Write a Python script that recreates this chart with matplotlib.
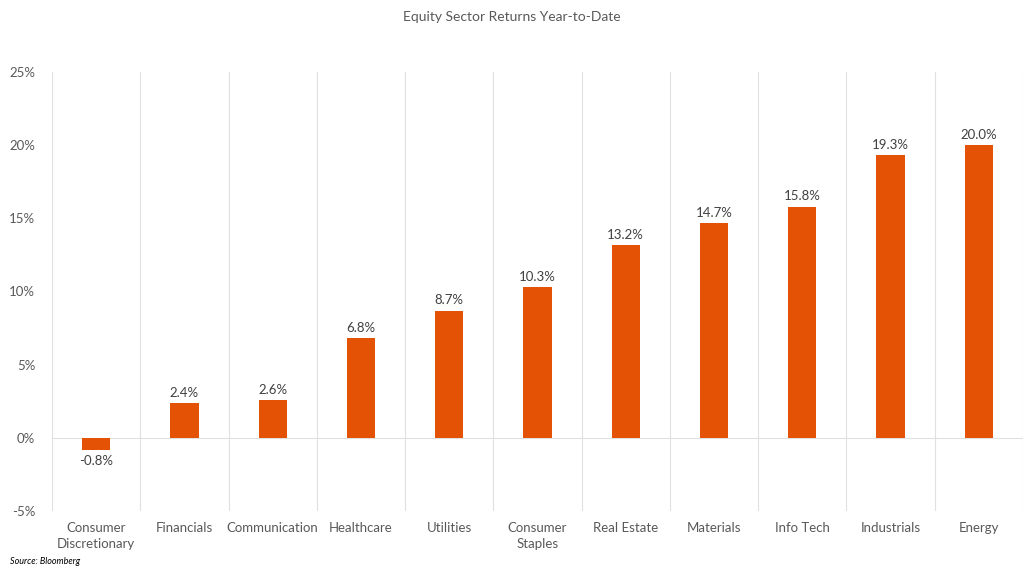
import matplotlib.pyplot as plt
import numpy as np
from matplotlib.ticker import FuncFormatter, MultipleLocator

plt.rcParams['font.family'] = ['Lato', 'DejaVu Sans']

sectors = ["Consumer\nDiscretionary", "Financials", "Communication", "Healthcare",
           "Utilities", "Consumer\nStaples", "Real Estate", "Materials",
           "Info Tech", "Industrials", "Energy"]
returns = [-0.8, 2.4, 2.6, 6.8, 8.7, 10.3, 13.2, 14.7, 15.8, 19.3, 20.0]

bar_color = "#E35205"
text_color = "#595959"
grid_color = "#E0E0E0"

fig = plt.figure(figsize=(10.24, 5.72), dpi=100)
ax = fig.add_axes([52 / 1024, 1 - 511 / 572, 971 / 1024, 439 / 572])

x = np.arange(len(sectors))
ax.bar(x, returns, width=0.32, color=bar_color, zorder=3)

for xi, v in zip(x, returns):
    if v >= 0:
        ax.annotate(f"{v:.1f}%", (xi, v), xytext=(0, 3), textcoords="offset points",
                    ha="center", va="bottom", fontsize=9.5, color="#404040")
    else:
        ax.annotate(f"{v:.1f}%", (xi, v), xytext=(0, -4), textcoords="offset points",
                    ha="center", va="top", fontsize=9.5, color="#404040")

ax.set_xlim(-0.5, len(sectors) - 0.5)
ax.set_ylim(-5, 25)
ax.yaxis.set_major_locator(MultipleLocator(5))
ax.yaxis.set_major_formatter(FuncFormatter(lambda v, p: f"{v:.0f}%"))

ax.set_xticks(x)
ax.set_xticklabels(sectors, fontsize=9.5, color=text_color, linespacing=1.35)
ax.set_xticks(np.arange(-0.5, len(sectors)), minor=True)
ax.tick_params(axis="x", which="both", length=0, pad=8)
ax.tick_params(axis="y", length=0, labelsize=9.5, labelcolor=text_color, pad=12)
ax.grid(axis="x", which="minor", color=grid_color, linewidth=0.8, zorder=0)
ax.grid(axis="x", which="major", visible=False)
ax.axhline(0, color=grid_color, linewidth=0.8, zorder=1)

for s in ax.spines.values():
    s.set_visible(False)

fig.text(0.5, 1 - 17 / 572, "Equity Sector Returns Year-to-Date", ha="center", va="center",
         fontsize=10, color=text_color)
fig.text(10 / 1024, 1 - 562 / 572, "Source: Bloomberg", ha="left", va="center",
         fontsize=6.5, style="italic", color="#000000")

fig.savefig("out.png", dpi=100)
